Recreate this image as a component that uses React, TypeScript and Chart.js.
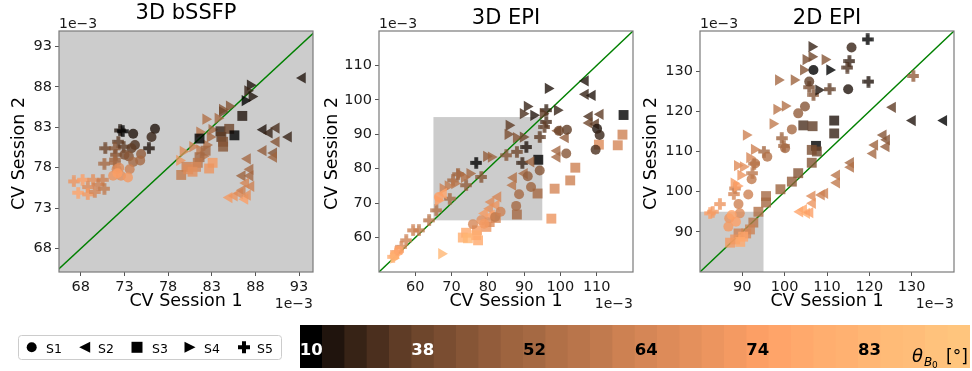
import React, { useEffect, useRef } from "react";
import { Chart, registerables } from "chart.js";

Chart.register(...registerables);

const FONT = "'DejaVu Sans', 'Liberation Sans', sans-serif";
Chart.defaults.font.family = FONT;

// ---------------- data ----------------
// theta_B0 value of each of the 30 colour bins (degrees)
const thetaBins = [10, 18, 24, 29, 34, 38, 41, 44, 47, 50, 52, 55, 57, 59, 62, 64, 66, 68, 70, 72, 74, 76, 78, 80, 81, 83, 85, 86, 88, 89];
const colorbarTickBins = [0, 5, 10, 15, 20, 25];
const subjectLabels = ["S1", "S2", "S3", "S4", "S5"];
const panelTitles = ["3D bSSFP", "3D EPI", "2D EPI"];
const xAxisTitle = "CV Session 1";
const yAxisTitle = "CV Session 2";
const offsetText = "1e\u22123";
const zoomBox = [65, 95];
const identityLine = [40, 150];

const bssfpTicks = [68, 73, 78, 83, 88, 93];
const bssfpXRange = [65.5, 94.6];
const bssfpYRange = [65.1, 94.9];
const epi3dTicks = [60, 70, 80, 90, 100, 110];
const epi3dRange = [50, 120];
const epi2dTicks = [90, 100, 110, 120, 130];
const epi2dRange = [80, 140];

// [CV session 1 (1e-3), CV session 2 (1e-3), colour bin]
const bssfpS1 = [[74.0,82.2,1],[76.5,82.8,1],[76.1,81.8,2],[74.2,80.8,3],[73.8,80.4,4],[73.0,79.6,6],[73.5,79.4,7],[74.9,79.7,8],[74.0,78.7,10],[74.8,78.9,10],[73.6,77.8,14],[72.1,77.8,15],[72.4,78.0,16],[71.7,77.0,18],[72.6,77.0,17],[73.4,76.8,19],[72.2,77.3,20]];
const bssfpS2 = [[93.4,89.1,1],[88.9,82.7,1],[89.6,82.3,2],[90.4,82.9,3],[91.8,81.8,2],[90.4,81.2,7],[88.9,80.1,8],[90.1,79.8,7],[90.1,79.3,9],[87.1,79.1,10],[87.4,77.8,10],[87.4,77.0,10],[86.5,77.0,9],[87.5,75.7,14],[86.9,76.1,15],[85.0,74.3,19],[85.6,74.5,18],[86.2,74.8,16],[86.8,74.1,20],[86.5,75.2,14],[87.1,74.6,17]];
const bssfpS3 = [[86.5,84.4,1],[84.0,82.5,2],[85.0,82.8,5],[85.6,82.0,0],[81.6,81.6,0],[84.1,81.8,4],[84.3,81.2,6],[84.3,80.6,7],[82.3,80.1,10],[81.6,79.3,10],[81.4,78.6,12],[80.1,78.1,14],[81.2,78.1,15],[83.1,78.6,19],[82.7,77.9,18],[79.5,77.1,13],[80.3,77.8,16],[80.8,77.5,17]];
const bssfpS4 = [[87.4,88.2,1],[87.1,87.5,2],[86.8,86.3,0],[87.6,86.8,1],[85.0,85.6,7],[84.2,85.2,7],[84.2,84.9,5],[83.7,84.1,10],[82.3,84.0,11],[83.0,82.7,10],[81.6,82.4,12],[82.8,81.8,10],[82.4,80.8,11],[81.6,80.2,13],[80.8,80.6,14],[79.7,80.0,16],[79.3,78.9,18],[82.0,79.4,12]];
const bssfpS5 = [[72.5,82.6,1],[72.8,82.5,0],[72.3,81.2,4],[70.8,80.4,5],[71.9,80.4,7],[72.9,80.6,4],[75.8,80.4,1],[72.0,79.6,7],[70.7,78.5,10],[71.9,79.0,9],[71.9,78.6,10],[67.2,76.3,18],[68.2,76.5,20],[69.4,76.5,17],[70.5,76.5,14],[70.0,75.9,14],[68.8,75.6,16],[67.7,74.9,21],[68.8,74.7,19],[69.6,75.0,15],[70.7,75.4,13]];

const epi3dS1 = [[110.1,91.6,1],[110.8,89.8,2],[109.7,85.5,3],[101.8,91.3,4],[99.6,91.0,5],[101.6,84.4,7],[94.3,79.5,7],[91.0,77.8,8],[91.9,74.7,9],[88.6,72.6,10],[87.8,69.2,10],[82.0,66.0,13],[75.9,63.9,15],[78.2,65.0,17],[79.0,64.0,19],[83.5,67.5,14],[66.5,71.8,20],[54.3,54.8,23],[55.5,56.2,21]];
const epi3dS2 = [[106.9,105.5,1],[106.9,101.6,2],[108.8,101.3,1],[108.0,95.2,3],[111.0,95.8,4],[107.9,93.3,5],[109.7,93.0,4],[101.4,89.0,8],[99.3,91.0,7],[99.1,85.2,10],[99.1,83.4,10],[87.1,77.4,11],[86.9,75.2,12],[90.1,78.6,10],[91.9,82.0,9],[82.8,71.8,15],[80.9,70.3,16],[82.3,69.4,18],[80.5,68.4,17],[79.1,67.0,19],[81.0,66.5,20],[67.8,72.8,21]];
const epi3dS3 = [[117.4,95.6,0],[117.1,89.9,14],[115.8,86.8,15],[110.6,87.0,16],[104.1,80.3,14],[102.7,76.6,14],[98.4,74.2,15],[97.5,65.5,18],[93.9,82.6,0],[93.7,72.8,10],[88.0,66.7,10],[79.6,63.1,18],[77.0,62.1,19],[74.0,61.4,22],[73.1,60.0,23],[74.5,59.8,25],[76.8,60.7,23],[77.3,59.2,22],[80.5,64.5,16],[82.2,65.7,15]];
const epi3dS4 = [[96.6,103.3,1],[90.8,98.1,2],[89.7,96.0,3],[92.6,95.5,1],[99.1,97.0,2],[85.8,92.6,4],[85.5,90.0,6],[87.8,89.0,7],[89.7,89.2,5],[79.6,83.6,8],[80.9,83.4,9],[75.0,78.6,10],[72.2,78.4,10],[73.5,77.5,11],[70.8,75.7,12],[69.0,75.0,13],[67.6,74.2,14],[66.3,70.8,20],[67.2,55.3,25],[95.2,96.0,4],[54.0,54.0,25]];
const epi3dS5 = [[96.1,97.0,2],[96.1,93.6,3],[95.6,92.1,4],[94.3,89.2,4],[90.6,86.3,1],[88.0,84.9,5],[85.1,83.9,7],[89.5,81.7,2],[76.8,81.7,0],[78.2,77.6,7],[71.8,78.4,9],[70.4,76.6,10],[69.5,71.3,10],[65.8,67.9,11],[63.8,65.0,12],[61.0,62.1,13],[59.4,62.1,14],[57.5,59.2,14],[56.2,57.3,15],[54.8,55.8,19],[53.9,54.4,22],[74.0,75.2,8]];

const epi2dS1 = [[115.8,135.9,2],[106.8,130.3,0],[105.8,127.4,4],[115.0,125.5,1],[104.8,121.2,7],[103.2,119.5,8],[101.7,115.5,10],[100.1,110.8,10],[95.9,108.7,11],[93.0,107.0,12],[92.2,103.1,13],[91.4,99.3,14],[89.1,96.9,14],[89.4,94.6,16],[86.9,93.4,18],[86.7,91.3,19],[87.5,94.2,21],[88.5,92.5,20]];
const epi2dS2 = [[137.6,117.7,0],[130.2,117.7,1],[125.5,121.0,4],[123.3,114.1,7],[124.1,112.9,7],[124.0,111.2,8],[121.3,111.6,9],[120.9,109.5,10],[115.6,107.2,10],[115.6,106.1,11],[112.3,104.1,12],[112.3,102.2,13],[109.5,99.6,14],[108.7,99.2,14],[106.5,98.9,16],[106.6,97.1,18],[103.6,95.0,21],[105.2,94.6,23],[104.5,95.5,22],[106.0,94.8,20]];
const epi2dS3 = [[111.7,117.7,1],[111.7,114.5,2],[104.4,116.5,3],[106.6,116.3,4],[107.4,111.4,0],[107.6,110.0,5],[106.4,110.4,6],[106.4,107.2,7],[103.2,104.6,7],[101.7,102.5,8],[99.0,100.6,9],[95.6,98.9,10],[95.6,97.3,10],[93.8,95.0,11],[92.6,92.3,12],[91.8,90.6,14],[90.9,89.6,15],[89.1,89.6,14],[88.3,88.1,18],[87.1,87.3,19],[90.2,88.8,21],[89.5,87.5,22]];
const epi2dS4 = [[106.4,136.1,2],[106.4,133.6,5],[105.0,132.9,6],[109.5,132.9,7],[110.6,130.3,0],[102.2,127.8,9],[98.5,127.8,10],[108.0,125.3,1],[104.4,130.3,7],[100.1,121.3,11],[98.1,120.5,12],[97.2,116.9,13],[90.9,114.1,14],[92.8,110.5,14],[91.7,108.5,15],[88.8,106.5,16],[90.2,106.2,17],[89.6,104.1,18],[88.0,102.1,19],[88.8,101.4,20]];
const epi2dS5 = [[119.6,137.9,0],[115.3,132.5,2],[114.8,130.9,3],[119.8,127.4,1],[110.6,125.5,4],[106.8,124.1,7],[105.8,126.0,6],[99.3,113.3,9],[99.8,111.4,10],[95.1,110.0,10],[92.8,107.0,11],[92.4,104.6,12],[88.0,99.4,15],[88.3,100.8,14],[84.7,96.9,18],[82.4,94.6,20],[83.0,95.0,19],[130.4,128.8,8]];

// ---------------- styling helpers ----------------
function copper(theta: number, alpha: number) {
  const t = Math.min(1, Math.max(0, (theta - 10) / 80));
  const r = Math.min(1, t * 1.2353);
  return `rgba(${Math.round(r * 255)},${Math.round(t * 0.7812 * 255)},${Math.round(t * 0.4975 * 255)},${alpha})`;
}

const plusCache = new Map<string, HTMLCanvasElement>();
function plusPath(g: CanvasRenderingContext2D, cx: number, cy: number, s: number) {
  const h = s / 2, t = s / 6;
  g.beginPath();
  g.moveTo(cx - t, cy - h); g.lineTo(cx + t, cy - h); g.lineTo(cx + t, cy - t); g.lineTo(cx + h, cy - t);
  g.lineTo(cx + h, cy + t); g.lineTo(cx + t, cy + t); g.lineTo(cx + t, cy + h); g.lineTo(cx - t, cy + h);
  g.lineTo(cx - t, cy + t); g.lineTo(cx - h, cy + t); g.lineTo(cx - h, cy - t); g.lineTo(cx - t, cy - t);
  g.closePath();
}
function plusMarker(color: string) {
  let c = plusCache.get(color);
  if (c) return c;
  c = document.createElement("canvas");
  c.width = 12; c.height = 12;
  const g = c.getContext("2d")!;
  g.fillStyle = color;
  plusPath(g, 6, 6, 11.5);
  g.fill();
  plusCache.set(color, c);
  return c;
}

const markerStyles = [
  { style: "circle", rotation: 0, radius: 5 },
  { style: "triangle", rotation: -90, radius: 6.5 },
  { style: "rect", rotation: 0, radius: 7 },
  { style: "triangle", rotation: 90, radius: 6.5 },
  { style: "plus", rotation: 0, radius: 6 },
];

function pointColor(ctx: any) {
  const raw = ctx.raw;
  return raw && raw.b !== undefined ? copper(thetaBins[raw.b], 0.8) : "rgba(0,0,0,0.8)";
}

function buildDatasets(series: number[][][]) {
  const ds: any[] = series.map((pts, i) => {
    const m = markerStyles[i];
    return {
      label: subjectLabels[i],
      data: pts.map(([x, y, b]) => ({ x, y, b })),
      pointStyle: m.style === "plus" ? (ctx: any) => plusMarker(pointColor(ctx)) : m.style,
      pointRotation: m.rotation,
      pointRadius: m.radius,
      pointHoverRadius: m.radius,
      backgroundColor: (ctx: any) => pointColor(ctx),
      borderWidth: 0,
      showLine: false,
    };
  });
  ds.push({
    label: "identity",
    data: identityLine.map((v) => ({ x: v, y: v })),
    showLine: true,
    borderColor: "#008000",
    backgroundColor: "#008000",
    borderWidth: 1.4,
    pointRadius: 0,
  });
  return ds;
}

function axis(range: number[], ticks: number[], which: "x" | "y") {
  return {
    type: "linear",
    min: range[0],
    max: range[1],
    afterBuildTicks: (s: any) => { s.ticks = ticks.map((v) => ({ value: v })); },
    afterFit: (s: any) => { if (which === "x") s.height = 30; else s.width = 60; },
    grid: { display: true, drawOnChartArea: false, drawTicks: true, tickLength: 4, tickColor: "#555", tickWidth: 1 },
    border: { display: false },
    ticks: { color: "#1a1a1a", font: { size: 14.5, family: FONT }, padding: 3, autoSkip: false, maxRotation: 0, callback: (v: any) => String(v) },
  };
}

const panelDecor = {
  id: "panelDecor",
  beforeDatasetsDraw(chart: any) {
    const { ctx, chartArea: a, scales } = chart;
    const x0 = scales.x.getPixelForValue(zoomBox[0]);
    const x1 = scales.x.getPixelForValue(zoomBox[1]);
    const y0 = scales.y.getPixelForValue(zoomBox[0]);
    const y1 = scales.y.getPixelForValue(zoomBox[1]);
    ctx.save();
    ctx.beginPath();
    ctx.rect(a.left, a.top, a.right - a.left, a.bottom - a.top);
    ctx.clip();
    ctx.fillStyle = "#cccccc";
    ctx.fillRect(Math.min(x0, x1), Math.min(y0, y1), Math.abs(x1 - x0), Math.abs(y1 - y0));
    ctx.restore();
  },
  afterDraw(chart: any, _args: any, opts: any) {
    const { ctx, chartArea: a } = chart;
    ctx.save();
    ctx.strokeStyle = "#7a7a7a";
    ctx.lineWidth = 1.2;
    ctx.strokeRect(a.left, a.top, a.right - a.left, a.bottom - a.top);
    const cx = (a.left + a.right) / 2;
    ctx.fillStyle = "#000";
    ctx.textBaseline = "alphabetic";
    ctx.textAlign = "center";
    ctx.font = `21px ${FONT}`;
    ctx.fillText(opts.title, cx, opts.titleY);
    ctx.font = `14px ${FONT}`;
    ctx.fillStyle = "#1a1a1a";
    ctx.textAlign = "left";
    ctx.fillText(offsetText, a.left, 28);
    ctx.textAlign = "right";
    ctx.fillText(offsetText, a.right, 308);
    ctx.fillStyle = "#000";
    ctx.font = `17.5px ${FONT}`;
    ctx.textAlign = "center";
    ctx.fillText(xAxisTitle, cx, 306);
    ctx.translate(opts.yTitleX, (a.top + a.bottom) / 2 + 2);
    ctx.rotate(-Math.PI / 2);
    ctx.textBaseline = "middle";
    ctx.fillText(yAxisTitle, 0, 0);
    ctx.restore();
  },
};

const PANEL_W = 326;
const PANEL_H = 320;

const panels = [
  { left: -1, title: panelTitles[0], titleY: 19, yTitleX: 20, series: [bssfpS1, bssfpS2, bssfpS3, bssfpS4, bssfpS5], xRange: bssfpXRange, yRange: bssfpYRange, ticks: bssfpTicks },
  { left: 319, title: panelTitles[1], titleY: 24, yTitleX: 13.5, series: [epi3dS1, epi3dS2, epi3dS3, epi3dS4, epi3dS5], xRange: epi3dRange, yRange: epi3dRange, ticks: epi3dTicks },
  { left: 640, title: panelTitles[2], titleY: 24, yTitleX: 11, series: [epi2dS1, epi2dS2, epi2dS3, epi2dS4, epi2dS5], xRange: epi2dRange, yRange: epi2dRange, ticks: epi2dTicks },
];

function ScatterPanel({ p }: { p: any }) {
  const ref = useRef<HTMLCanvasElement>(null);
  useEffect(() => {
    const chart = new Chart(ref.current!, {
      type: "scatter",
      data: { datasets: buildDatasets(p.series) },
      options: {
        animation: false,
        responsive: false,
        events: [],
        layout: { padding: { left: 0, top: 31, right: 12, bottom: 18 } },
        scales: { x: axis(p.xRange, p.ticks, "x") as any, y: axis(p.yRange, p.ticks, "y") as any },
        plugins: {
          legend: { display: false },
          tooltip: { enabled: false },
          panelDecor: { title: p.title, titleY: p.titleY, yTitleX: p.yTitleX },
        } as any,
      },
      plugins: [panelDecor],
    } as any);
    return () => chart.destroy();
  }, []);
  return <canvas ref={ref} width={PANEL_W} height={PANEL_H} style={{ display: "block" }} />;
}

function drawLegendMarker(g: CanvasRenderingContext2D, i: number, cx: number, cy: number) {
  g.beginPath();
  if (i === 0) {
    g.arc(cx, cy, 5, 0, Math.PI * 2);
  } else if (i === 1) {
    g.moveTo(cx - 5.5, cy); g.lineTo(cx + 5.5, cy - 5.5); g.lineTo(cx + 5.5, cy + 5.5); g.closePath();
  } else if (i === 2) {
    g.rect(cx - 5.5, cy - 5.5, 11, 11);
  } else if (i === 3) {
    g.moveTo(cx + 5.5, cy); g.lineTo(cx - 5.5, cy - 5.5); g.lineTo(cx - 5.5, cy + 5.5); g.closePath();
  } else {
    plusPath(g, cx, cy, 12);
  }
  g.fill();
}

const legendMarkerX = [31.7, 84.7, 137, 190, 244];
const legendTextX = [46, 98, 152, 204, 257];

const bottomDecor = {
  id: "bottomDecor",
  afterDraw(chart: any) {
    const { ctx, scales } = chart;
    ctx.save();
    ctx.font = `bold 16.5px ${FONT}`;
    ctx.textAlign = "center";
    ctx.textBaseline = "alphabetic";
    colorbarTickBins.forEach((i) => {
      ctx.fillStyle = i < 10 ? "#ffffff" : "#000000";
      ctx.fillText(String(thetaBins[i]), scales.x.getPixelForValue(i), 35);
    });
    ctx.fillStyle = "#000";
    ctx.textAlign = "left";
    ctx.font = `italic 18px ${FONT}`;
    ctx.fillText("\u03b8", 912, 42);
    ctx.font = `italic 12px ${FONT}`;
    ctx.fillText("B", 924, 46);
    ctx.font = `9px ${FONT}`;
    ctx.fillText("0", 932, 48);
    ctx.font = `17px ${FONT}`;
    ctx.fillText("[\u00b0]", 946, 42);

    // legend box
    ctx.strokeStyle = "#cccccc";
    ctx.lineWidth = 1;
    ctx.fillStyle = "rgba(255,255,255,0.8)";
    ctx.beginPath();
    (ctx as any).roundRect ? ctx.roundRect(18.5, 15.5, 263, 24, 3) : ctx.rect(18.5, 15.5, 263, 24);
    ctx.fill();
    ctx.stroke();
    ctx.fillStyle = "#000";
    ctx.font = `12.5px ${FONT}`;
    subjectLabels.forEach((s, i) => {
      drawLegendMarker(ctx, i, legendMarkerX[i], 27.3);
      ctx.fillText(s, legendTextX[i], 33);
    });
    ctx.restore();
  },
};

function BottomStrip() {
  const ref = useRef<HTMLCanvasElement>(null);
  useEffect(() => {
    const chart = new Chart(ref.current!, {
      type: "bar",
      data: {
        labels: thetaBins.map(String),
        datasets: [{
          data: thetaBins.map(() => 1),
          backgroundColor: thetaBins.map((t) => copper(t, 1)),
          borderWidth: 0,
          barPercentage: 1,
          categoryPercentage: 1,
        }],
      },
      options: {
        animation: false,
        responsive: false,
        events: [],
        layout: { padding: { left: 300, right: 2, top: 5, bottom: 3 } },
        scales: { x: { display: false }, y: { display: false, min: 0, max: 1 } },
        plugins: { legend: { display: false }, tooltip: { enabled: false } },
      },
      plugins: [bottomDecor],
    } as any);
    return () => chart.destroy();
  }, []);
  return <canvas ref={ref} width={972} height={51} style={{ display: "block" }} />;
}

export default function App() {
  return (
    <div style={{ position: "absolute", left: 0, top: 0, width: 972, height: 371, background: "#fff", overflow: "hidden" }}>
      {panels.map((p, i) => (
        <div key={i} style={{ position: "absolute", left: p.left, top: 0 }}>
          <ScatterPanel p={p} />
        </div>
      ))}
      <div style={{ position: "absolute", left: 0, top: 320 }}>
        <BottomStrip />
      </div>
    </div>
  );
}
